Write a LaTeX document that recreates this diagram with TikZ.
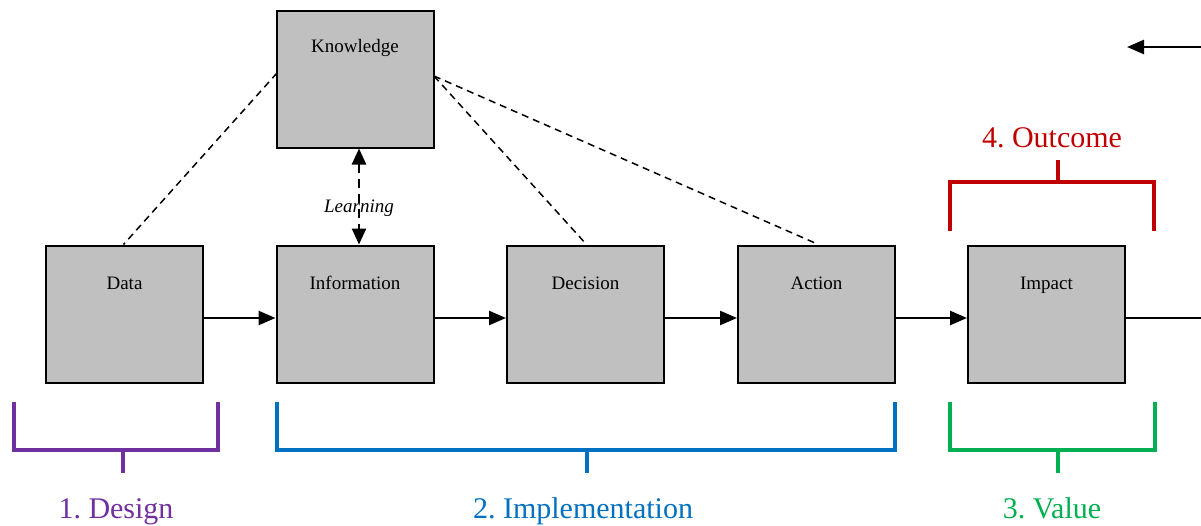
\documentclass[tikz,border=0pt]{standalone}
\usepackage{fontspec}
\setmainfont{Liberation Serif}
\frenchspacing
\usetikzlibrary{arrows.meta}
\definecolor{boxgray}{HTML}{C0C0C0}
\definecolor{cdesign}{HTML}{7030A0}
\definecolor{cimpl}{HTML}{0070C0}
\definecolor{cvalue}{HTML}{00B050}
\definecolor{coutcome}{HTML}{C00000}
\tikzset{
  stage/.style={draw=black, line width=2pt, fill=boxgray, rectangle,
    minimum width=157pt, minimum height=137pt, inner sep=0pt},
  boxtext/.style={font=\fontsize{19}{22}\selectfont},
  flow/.style={line width=2.5pt, -{Triangle[length=17pt,width=14pt]}},
  plain/.style={line width=2.5pt},
  link/.style={line width=1.5pt, dash pattern=on 7pt off 5pt},
  learn/.style={line width=2.5pt, dash pattern=on 9pt off 6pt,
    {Triangle[length=16pt,width=14pt]}-{Triangle[length=16pt,width=14pt]}},
  brace/.style={line width=4pt},
  bracelabel/.style={font=\fontsize{30}{34}\selectfont, anchor=base}
}
\begin{document}
\begin{tikzpicture}[x=1pt, y=-1pt]
\useasboundingbox (0,0) rectangle (1201,525);

% stage boxes
\node[stage, label={[boxtext, anchor=base, yshift=-43pt]north:Knowledge}] (know) at (355,79) {};
\node[stage, label={[boxtext, anchor=base, yshift=-45pt]north:Data}] (data) at (124.5,314) {};
\node[stage, label={[boxtext, anchor=base, yshift=-45pt]north:Information}] (info) at (355,314) {};
\node[stage, label={[boxtext, anchor=base, yshift=-45pt]north:Decision}] (dec) at (585.5,314) {};
\node[stage, label={[boxtext, anchor=base, yshift=-45pt]north:Action}] (act) at (816.5,314) {};
\node[stage, label={[boxtext, anchor=base, yshift=-45pt]north:Impact}] (imp) at (1046.5,314) {};

% main flow
\draw[flow] ([yshift=-4pt]data.east) -- ([yshift=-4pt]info.west);
\draw[flow] ([yshift=-4pt]info.east) -- ([yshift=-4pt]dec.west);
\draw[flow] ([yshift=-4pt]dec.east) -- ([yshift=-4pt]act.west);
\draw[flow] ([yshift=-4pt]act.east) -- ([yshift=-4pt]imp.west);
\coordinate (outR) at (1201,318);
\draw[plain] ([yshift=-4pt]imp.east) -- (outR);

% feedback arrow entering from the right
\coordinate (fbStart) at (1201,47);
\coordinate (fbEnd) at (1127,47);
\draw[flow] (fbStart) -- (fbEnd);

% knowledge links
\coordinate (kL) at (277,73);
\coordinate (kR) at (434,76);
\draw[link] (kL) -- ([xshift=-1pt]data.north);
\draw[link] (kR) -- ([xshift=1pt]dec.north);
\draw[link] (kR) -- ([xshift=2pt]act.north);

% learning loop
\draw[learn] ([xshift=4pt]know.south) -- ([xshift=4pt]info.north);
\node[font=\fontsize{19}{22}\selectfont\itshape, anchor=base, inner sep=0pt] (learning) at (359,212) {Learning};

% brackets
\draw[brace, cdesign] (14,402) -- (14,450) -- (218,450) -- (218,402);
\draw[brace, cdesign] (123,450) -- (123,473);
\node[bracelabel, text=cdesign] (design) at (116,518) {1. Design};

\draw[brace, cimpl] (277,402) -- (277,450) -- (895,450) -- (895,402);
\draw[brace, cimpl] (587,450) -- (587,473);
\node[bracelabel, text=cimpl] (impl) at (583,518) {2. Implementation};

\draw[brace, cvalue] (950,402) -- (950,450) -- (1155,450) -- (1155,402);
\draw[brace, cvalue] (1058,450) -- (1058,473);
\node[bracelabel, text=cvalue] (value) at (1052,518) {3. Value};

\draw[brace, coutcome] (950,231) -- (950,182) -- (1154,182) -- (1154,231);
\draw[brace, coutcome] (1058,182) -- (1058,160);
\node[bracelabel, text=coutcome] (outcome) at (1052,147) {4. Outcome};
\end{tikzpicture}
\end{document}
